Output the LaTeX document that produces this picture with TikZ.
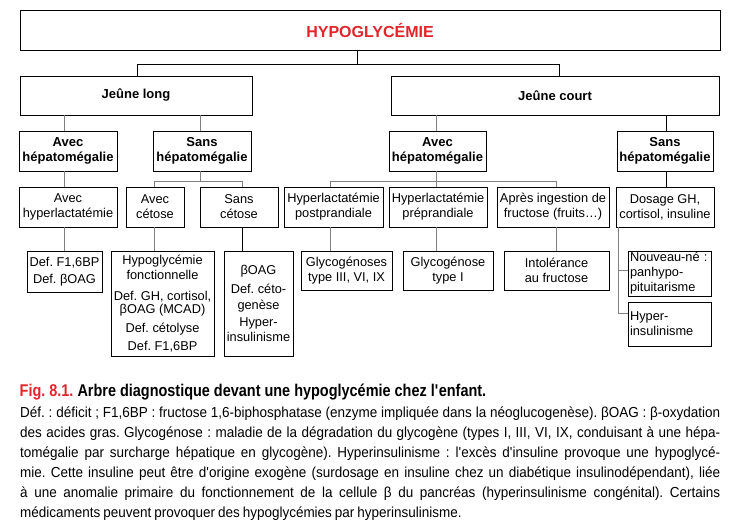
\documentclass[tikz,border=0pt]{standalone}
\usepackage{fontspec}
\setmainfont{Liberation Sans}
\newfontfamily\capfont[FakeStretch=0.93,WordSpace=0.8]{Liberation Sans}
\newfontfamily\captitlefont[FakeStretch=0.85]{Liberation Sans}
\usetikzlibrary{calc}
\definecolor{hred}{HTML}{E3242B}
\frenchspacing
\begin{document}
\begin{tikzpicture}[x=1pt,y=-1pt,
  box/.style={draw=black, line width=0.8pt, inner sep=0pt, align=center,
    minimum height=40pt, font=\fontsize{12.8}{15}\selectfont},
  bbox/.style={box, font=\fontsize{13}{15}\selectfont\bfseries},
  conn/.style={line width=0.8pt, draw=black},
  gconn/.style={line width=0.8pt, draw=black!50},
  capline/.style={anchor=base west, inner sep=0pt, font=\fontsize{14.5}{20}\capfont}]
\useasboundingbox (0,0) rectangle (730,529);

% level 0
\node[box, minimum width=700pt, font=\fontsize{16}{18}\selectfont\bfseries, text=hred] (top) at (370,30) {HYPOGLYCÉMIE};
% level 1
\node[bbox, minimum width=232pt, minimum height=39pt] (JL) at (136,95.5) {Jeûne long};
\node[bbox, minimum width=328pt, minimum height=39pt] (JC) at (555,95.5) {Jeûne court};
% level 2
\node[bbox, minimum width=98pt] (AH1) at (68,151) {Avec\\hépatomégalie};
\node[bbox, minimum width=98pt] (SH1) at (202,151) {Sans\\hépatomégalie};
\node[bbox, minimum width=97pt] (AH2) at (437.5,151) {Avec\\hépatomégalie};
\node[bbox, minimum width=96pt] (SH2) at (665,151) {Sans\\hépatomégalie};
% level 3
\node[box, minimum width=98pt] (AHL) at (68,207) {Avec\\hyperlactatémie};
\node[box, minimum width=58pt] (AC) at (155,207) {Avec\\cétose};
\node[box, minimum width=78pt] (SC) at (239,207) {Sans\\cétose};
\node[box, minimum width=99pt] (HPP) at (333.5,207) {Hyperlactatémie\\postprandiale};
\node[box, minimum width=98pt] (HPR) at (438,207) {Hyperlactatémie\\préprandiale};
\node[box, minimum width=112pt] (API) at (553,207) {Après ingestion de\\fructose (fruits…)};
\node[box, minimum width=98pt] (DGH) at (665,207) {Dosage GH,\\cortisol, insuline};
% level 4
\node[box, minimum width=75pt, minimum height=41pt] (DEF) at (64.5,271.5) {Def. F1,6BP\\[1.5pt]Def. βOAG};
\node[box, minimum width=103pt, minimum height=105.5pt] (HF) at (162.5,303.8)
  {Hypoglycémie\\fonctionnelle\\[5.5pt]Def. GH, cortisol,\\[-1.5pt]βOAG (MCAD)\\[4.3pt]Def. cétolyse\\[2.7pt]Def. F1,6BP};
\node[box, minimum width=69pt, minimum height=105.5pt] (BOAG) at (258.5,303.8)
  {βOAG\\[4pt]Def. céto-\\[0.7pt]genèse\\[1.7pt]Hyper-\\[0.7pt]insulinisme};
\node[box, minimum width=91pt, minimum height=39pt] (GLY) at (346.5,270.5) {Glycogénoses\\type III, VI, IX};
\node[box, minimum width=90pt, minimum height=39pt] (GLY1) at (448,270.5) {Glycogénose\\type I};
\node[box, minimum width=105pt, minimum height=39pt] (INT) at (556.5,270.5) {Intolérance\\au fructose};
\node[box, minimum width=83pt, minimum height=45pt, align=left, text width=79pt, inner xsep=2pt] (NN) at (669.5,273.5) {Nouveau-né :\\panhypo-\\pituitarisme};
\node[box, minimum width=83pt, minimum height=44pt, align=left, text width=79pt, inner xsep=2pt] (HI) at (669.5,324) {Hyper-\\insulinisme};

% connectors
\draw[conn] ([xshift=-13pt]top.south) -- ++(0,14) coordinate (tj);
\draw[conn] ([xshift=1pt]JL.north) |- (tj) -| ([xshift=4pt]JC.north);
\draw[gconn] ([xshift=-4pt]AH1.north) -- ([xshift=-4pt]AH1.north |- JL.south);
\draw[gconn] ([xshift=-2pt]SH1.north) -- ([xshift=-2pt]SH1.north |- JL.south);
\draw[gconn] ([xshift=-1pt]AH2.north) -- ([xshift=-1pt]AH2.north |- JC.south);
\draw[conn] ([xshift=1pt]SH2.north) -- ([xshift=1pt]SH2.north |- JC.south);
\draw[gconn] ([xshift=-4pt]AH1.south) -- ([xshift=-4pt]AHL.north);
\draw[gconn] (DEF.north) -- (DEF.north |- AHL.south);
\draw[gconn] ([xshift=-2pt]SH1.south) -- ++(0,10) coordinate (s1);
\draw[gconn] ([xshift=-1pt]AC.north) |- (s1) -| ([xshift=3pt]SC.north);
\draw[gconn] ([xshift=-1pt]AC.south) -- ([xshift=-1pt]AC.south |- HF.north);
\draw[conn] ([xshift=3pt]SC.south) -- ([xshift=3pt]SC.south |- BOAG.north);
\draw[gconn] ([xshift=-1.5pt]AH2.south) -- ++(0,10) coordinate (s2);
\draw[gconn] ([xshift=-3.5pt]HPP.north) |- (s2) -| ([xshift=3pt]API.north);
\draw[gconn] (s2) -- (s2 |- HPR.north);
\draw[gconn] ([xshift=-3.5pt]HPP.south) -- ([xshift=-3.5pt]HPP.south |- GLY.north);
\draw[gconn] ([xshift=-2pt]HPR.south) -- ([xshift=-2pt]HPR.south |- GLY1.north);
\draw[gconn] ([xshift=3pt]API.south) -- ([xshift=3pt]API.south |- INT.north);
\draw[conn] ([xshift=1pt]SH2.south) -- ([xshift=1pt]DGH.north);
\coordinate (d0) at ([xshift=3pt]DGH.south west);
\draw[gconn] (d0) |- ([yshift=10.7pt]HI.west);
\draw[gconn] ([yshift=3.5pt]NN.west) -- ([yshift=3.5pt]NN.west -| d0);

% caption
\node[anchor=base west, inner sep=0pt, font=\fontsize{17}{20}\captitlefont\bfseries] (cap) at (19.5,396)
  {\textcolor{hred}{Fig. 8.1.} Arbre diagnostique devant une hypoglycémie chez l\textquotesingle enfant.};
\node[capline] (l1) at (20,417.3) {\makebox[700pt][s]{Déf. : déficit ; F1,6BP : fructose 1,6-biphosphatase (enzyme impliquée dans la néoglucogenèse). βOAG : β-oxydation}};
\node[capline] (l2) at (20,437.4) {\makebox[700pt][s]{des acides gras. Glycogénose : maladie de la dégradation du glycogène (types I, III, VI, IX, conduisant à une hépa-}};
\node[capline] (l3) at (20,457.5) {\makebox[700pt][s]{tomégalie par surcharge hépatique en glycogène). Hyperinsulinisme : l\textquotesingle excès d\textquotesingle insuline provoque une hypoglycé-}};
\node[capline] (l4) at (20,477.6) {\makebox[700pt][s]{mie. Cette insuline peut être d\textquotesingle origine exogène (surdosage en insuline chez un diabétique insulinodépendant), liée}};
\node[capline] (l5) at (20,497.7) {\makebox[700pt][s]{à une anomalie primaire du fonctionnement de la cellule β du pancréas (hyperinsulinisme congénital). Certains}};
\node[capline] (l6) at (20,517.8) {médicaments peuvent provoquer des hypoglycémies par hyperinsulinisme.};
\end{tikzpicture}
\end{document}
